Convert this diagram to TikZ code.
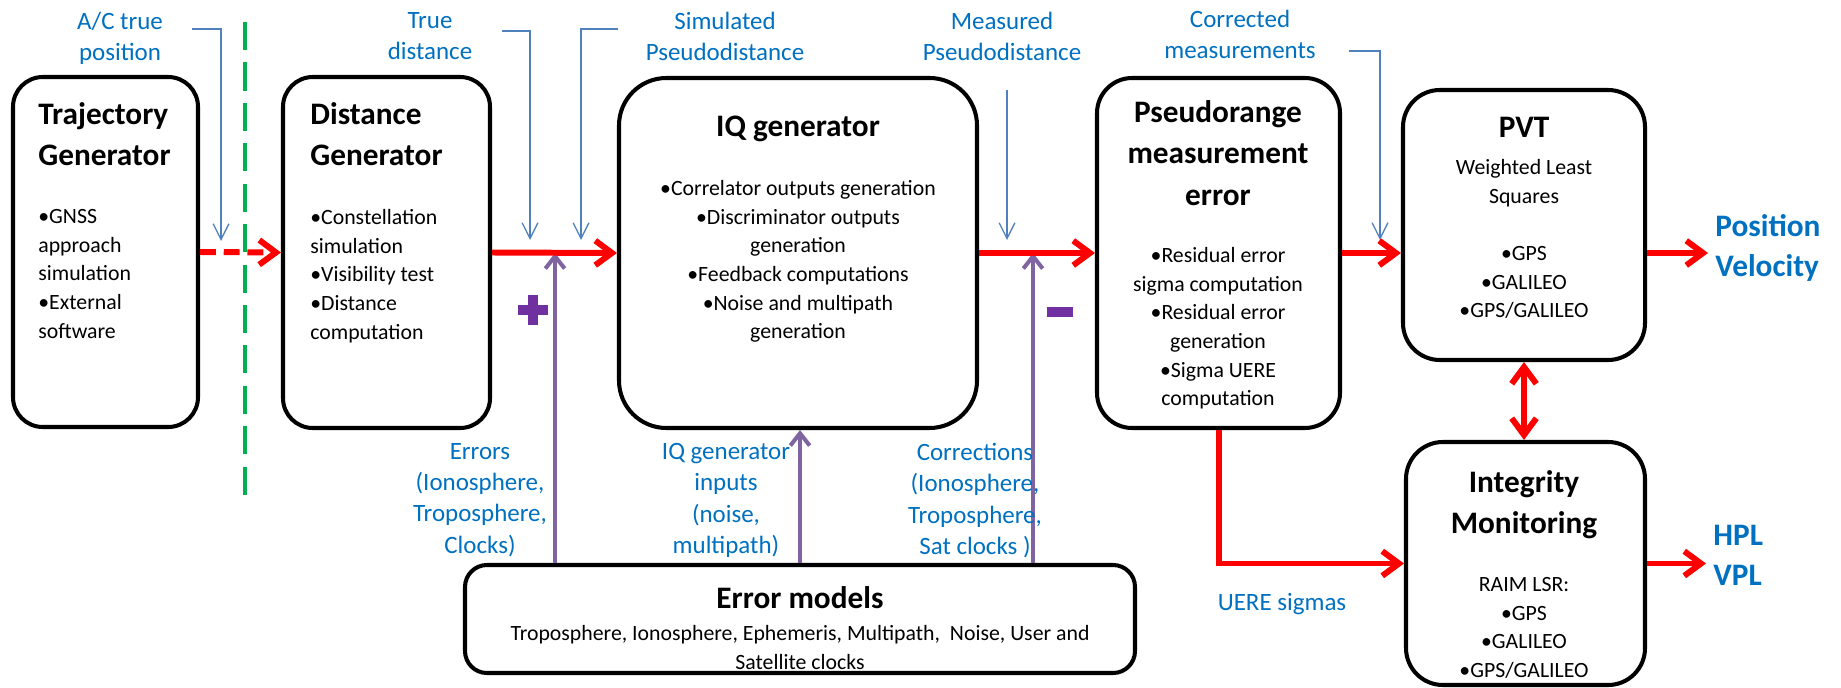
\documentclass[tikz,border=0pt]{standalone}
\usepackage{fontspec}
\setmainfont{Carlito}
\usetikzlibrary{arrows.meta, fit}
\definecolor{feedpurple}{HTML}{8064A2}
\definecolor{signpurple}{HTML}{7030A0}
\definecolor{tagblue}{HTML}{0070C0}
\definecolor{lineblue}{HTML}{4F81BD}
\definecolor{sepgreen}{HTML}{00B050}
\newcommand{\ttlfont}{\fontsize{17.8pt}{23.7pt}\selectfont\bfseries}
\newcommand{\bodyfont}{\fontsize{12.4pt}{16.3pt}\selectfont}
\newcommand{\tagfont}{\fontsize{14.2pt}{17.8pt}\selectfont}
\newcommand{\outfont}{\fontsize{17.8pt}{22.8pt}\selectfont\bfseries}
\tikzstyle{module} = [rectangle, draw=black, line width=2.3pt, inner sep=0pt]
\tikzstyle{heading} = [font=\ttlfont, align=center, inner sep=0pt]
\tikzstyle{bullets} = [font=\bodyfont, align=center, inner sep=0pt]
\tikzstyle{tag} = [font=\tagfont, text=tagblue, align=center, inner sep=0pt, anchor=north]
\tikzstyle{result} = [font=\outfont, text=tagblue, align=left, inner xsep=4pt, inner ysep=0pt, anchor=north west]
\tikzstyle{arrow} = [red, line width=3.4pt, >={Straight Barb[length=9.5pt,width=14pt]}, ->]
\tikzstyle{feed} = [feedpurple, line width=2.3pt, >={Straight Barb[length=7pt,width=11pt]}, ->]
\tikzstyle{pointer} = [lineblue, line width=0.75pt, >={Straight Barb[length=9pt,width=9pt]}, ->]
\tikzstyle{sign} = [signpurple, line width=6pt]

\begin{document}
\begin{tikzpicture}[x=0.2mm, y=-0.2mm]
        \useasboundingbox (0,0) rectangle (1841,688);

        \node (traj) [module, rounded corners=17pt, fit={(13,77) (198,427)}] {};
        \node (dist) [module, rounded corners=17pt, fit={(283,77) (490,428)}] {};
        \node (iq) [module, rounded corners=27pt, fit={(619,78) (977,428)}] {};
        \node (pre) [module, rounded corners=20pt, fit={(1097,78) (1340,428)}] {};
        \node (pvt) [module, rounded corners=21pt, fit={(1403,90) (1645,360)}] {};
        \node (integ) [module, rounded corners=21pt, fit={(1406,442) (1645,685)}] {};
        \node (errm) [module, rounded corners=12.5pt, fit={(465,565) (1135,673)}] {};

        \coordinate (plusjoin) at (555,253);
        \coordinate (minusjoin) at (1033,253);
        \coordinate (acfrom) at (192,29);
        \coordinate (acto) at (221,241);
        \coordinate (tdfrom) at (502,31);
        \coordinate (tdto) at (530,240);
        \coordinate (spfrom) at (618,29);
        \coordinate (spto) at (581,240);
        \coordinate (mpfrom) at (1007,90);
        \coordinate (mpto) at (1007,240);
        \coordinate (cmfrom) at (1349,51);
        \coordinate (cmto) at (1380,240);

        % error model feeds
        \draw [feed] (errm.north -| plusjoin) -- (plusjoin);
        \draw [feed] (errm.north) -- (errm.north |- iq.south);
        \draw [feed] (errm.north -| minusjoin) -- (minusjoin);
        \draw [sign] (518,310) -- (548,310) (533,295) -- (533,325);
        \draw [sign] (1047,312) -- (1073,312);

        \node (trajH) [heading, align=left, anchor=north west] at (38,102) {Trajectory\\Generator};
        \node (trajB) [bullets, align=left, anchor=north west] at (38,209) {•GNSS\\approach\\simulation\\•External\\software};
        \node (distH) [heading, align=left, anchor=north west] at (310,102) {Distance\\Generator};
        \node (distB) [bullets, align=left, anchor=north west] at (310,209) {•Constellation\\simulation\\•Visibility test\\•Distance\\computation};
        \node (iqH) [heading, anchor=north] at (798,116) {IQ generator};
        \node (iqB) [bullets, anchor=north] at (798,180) {•Correlator outputs generation\\•Discriminator outputs\\generation\\•Feedback computations\\•Noise and multipath\\generation};
        \node (preH) [heading, anchor=north] at (1218,100) {Pseudorange\\measurement\\error};
        \node (preB) [bullets, anchor=north] at (1218,247) {•Residual error\\sigma computation\\•Residual error\\generation\\•Sigma UERE\\computation};
        \node (pvtH) [heading, anchor=north] at (1524,117) {PVT};
        \node (pvtB) [bullets, anchor=north] at (1524,159) {Weighted Least\\Squares\\[16.3pt]•GPS\\•GALILEO\\•GPS/GALILEO};
        \node (integH) [heading, anchor=north] at (1524,470) {Integrity\\Monitoring};
        \node (integB) [bullets, anchor=north] at (1524,577) {RAIM LSR:\\•GPS\\•GALILEO\\•GPS/GALILEO};
        \node (errmH) [heading, anchor=north] at (800,586) {Error models};
        \node (errmB) [bullets, anchor=north] at (800,625) {Troposphere, Ionosphere, Ephemeris, Multipath,\ \ Noise, User and\\Satellite clocks};

        \node (acpos) [tag] at (120,12) {A/C true\\position};
        \node (truedist) [tag] at (430,12) {True\\distance};
        \node (simpd) [tag] at (725,12) {Simulated\\Pseudodistance};
        \node (measpd) [tag] at (1002,12) {Measured\\Pseudodistance};
        \node (corrmeas) [tag] at (1240,10) {Corrected\\measurements};
        \node (errin) [tag] at (480,443) {Errors\\(Ionosphere,\\Troposphere,\\Clocks)};
        \node (iqin) [tag] at (726,443) {IQ generator\\inputs\\(noise,\\multipath)};
        \node (corrin) [tag] at (975,443) {Corrections\\(Ionosphere,\\Troposphere,\\Sat clocks )};
        \node (uere) [tag] at (1282,593) {UERE sigmas};
        \node (posvel) [result] at (1708,214) {Position\\Velocity};
        \node (hplvpl) [result] at (1706,525) {HPL\\VPL};

        % separator
        \draw [sepgreen, line width=2.3pt, dash pattern=on 16pt off 7pt] (245,22) -- (245,498);

        % inputs from above
        \draw [pointer] (acfrom) -| (acto);
        \draw [pointer] (tdfrom) -| (tdto);
        \draw [pointer] (spfrom) -| (spto);
        \draw [pointer] (mpfrom) -- (mpto);
        \draw [pointer] (cmfrom) -| (cmto);

        % main chain
        \draw [arrow, dash pattern=on 9pt off 4.5pt] (traj.east) -- (dist.west);
        \draw [arrow] (dist.east) -- (iq.west);
        \draw [arrow] (iq.east) -- (pre.west);
        \draw [arrow] (pre.east) -- (pre.east -| pvt.west);
        \draw [arrow] (pvt.east |- pre.east) -- (posvel.west |- pre.east);
        \draw [arrow] (pre.south) |- (integ.west);
        \draw [arrow, <->] (pvt.south) -- (pvt.south |- integ.north);
        \draw [arrow] (integ.east) -- (hplvpl.west |- integ.east);
\end{tikzpicture}
\end{document}
